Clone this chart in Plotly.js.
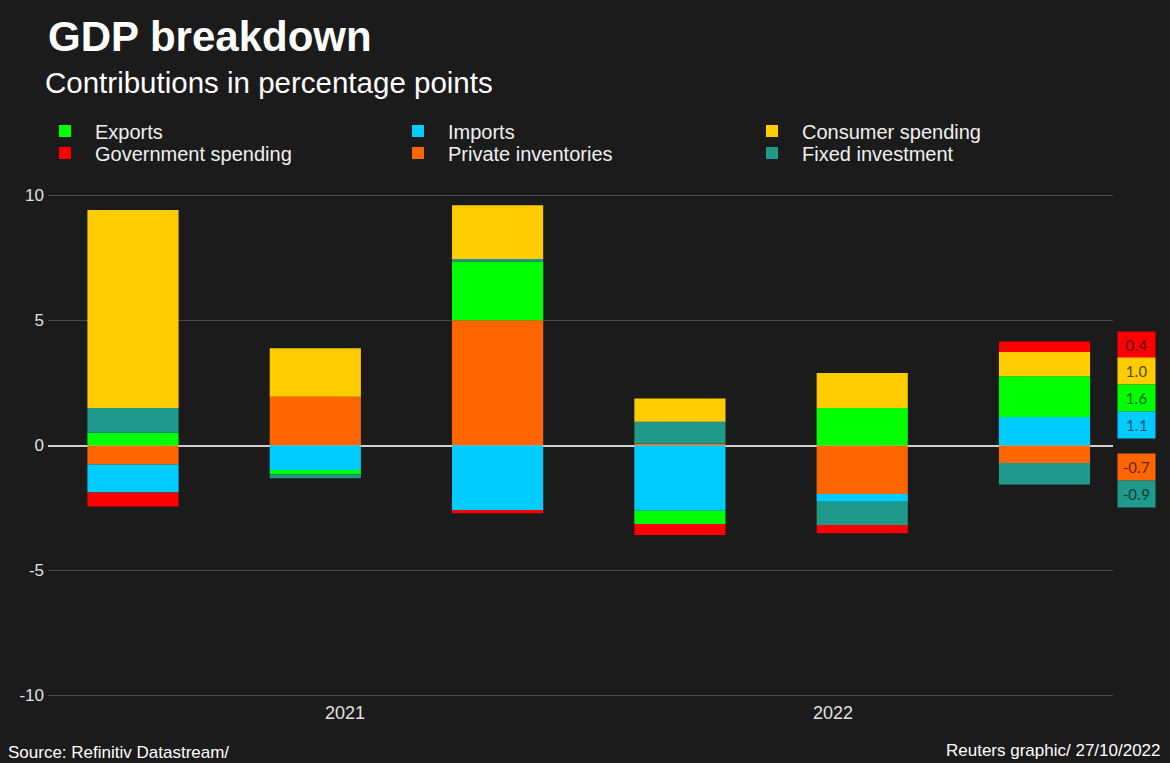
<!DOCTYPE html>
<html>
<head>
<meta charset="utf-8">
<script src="https://cdn.plot.ly/plotly-3.0.1.min.js"></script>
<style>
  html, body { margin: 0; padding: 0; background: #1b1b1b; }
  #chart { width: 1170px; height: 763px; }
</style>
</head>
<body>
<div id="chart"></div>
<script>
// ---- Data (contributions in percentage points) ----
const quarters = ['Q2 2021', 'Q3 2021', 'Q4 2021', 'Q1 2022', 'Q2 2022', 'Q3 2022'];
const xTickLabels = ['2021', '2022'];
const xTickPositions = [1.163, 3.84];
const yTickValues = [-10, -5, 0, 5, 10];

const privateInventories = [-0.76, 1.95, 5.01, 0.08, -1.94, -0.70];
const imports            = [-1.12, -0.98, -2.58, -2.61, -0.31, 1.14];
const exportsC           = [0.51, -0.18, 2.35, -0.53, 1.50, 1.63];
const fixedInvestment    = [0.99, -0.15, 0.10, 0.87, -0.93, -0.86];
const consumerSpending   = [7.92, 1.94, 2.15, 0.93, 1.40, 0.97];
const governmentSpending = [-0.56, 0.00, -0.13, -0.44, -0.33, 0.42];

// ---- Series definitions (stack order bottom-up); legend slot = column,row ----
const series = [
  { name: 'Private inventories', values: privateInventories, color: '#ff6600', dark: '#6a2400', col: 1, row: 1 },
  { name: 'Imports',             values: imports,            color: '#00ccff', dark: '#00506a', col: 1, row: 0 },
  { name: 'Exports',             values: exportsC,           color: '#00ff00', dark: '#006a00', col: 0, row: 0 },
  { name: 'Fixed investment',    values: fixedInvestment,    color: '#1f9a8a', dark: '#0a3e38', col: 2, row: 1 },
  { name: 'Consumer spending',   values: consumerSpending,   color: '#ffcc00', dark: '#5a4700', col: 2, row: 0 },
  { name: 'Government spending', values: governmentSpending, color: '#ff0000', dark: '#6a0000', col: 0, row: 1 }
];

// layout geometry
const W = 1170, H = 763;
const M = { l: 48, r: 57, t: 193, b: 65 };
const plotW = W - M.l - M.r, plotH = H - M.t - M.b;
const px2paperX = px => (px - M.l) / plotW;
const px2paperY = py => (H - M.b - py) / plotH;

const xs = quarters.map((q, i) => i);

const legendCols = [35, 388, 742];
const legendRows = [131, 153];

const layoutLegends = {};
const traces = series.map((s, i) => {
  const key = i === 0 ? 'legend' : 'legend' + (i + 1);
  layoutLegends[key] = {
    xref: 'paper', yref: 'paper',
    x: px2paperX(legendCols[s.col]), y: px2paperY(legendRows[s.row]),
    xanchor: 'left', yanchor: 'middle',
    itemwidth: 50,
    bgcolor: 'rgba(0,0,0,0)',
    borderwidth: 0,
    font: { family: '"Liberation Sans", Arial, sans-serif', size: 20, color: '#f0f0f0' }
  };
  return {
    type: 'bar',
    name: s.name,
    x: xs,
    y: s.values,
    width: 0.5,
    legend: key,
    marker: { color: s.color, line: { width: 0 } },
    hovertext: quarters,
    hoverinfo: 'text+y+name'
  };
});

// ---- Labels for the latest quarter ----
const last = quarters.length - 1;
const boxH = 1.07;
const pos = [], neg = [];
let cumP = 0, cumN = 0;
series.forEach(s => {
  const v = s.values[last];
  if (v >= 0) { pos.push({ s, v, c: cumP + v / 2 }); cumP += v; }
  else { neg.push({ s, v, c: cumN + v / 2 }); cumN += v; }
});
const annotations = [];
pos.reverse();
const pMean = pos.reduce((a, p) => a + p.c, 0) / pos.length;
const pTop = pMean + pos.length * boxH / 2;
pos.forEach((p, i) => { p.y = pTop - boxH * (i + 0.5); });
const pBottom = pTop - pos.length * boxH;
const nMean = neg.reduce((a, p) => a + p.c, 0) / neg.length;
const nTop = Math.min(nMean + neg.length * boxH / 2, pBottom - 0.62);
neg.forEach((p, i) => { p.y = nTop - boxH * (i + 0.5); });
pos.concat(neg).forEach(p => {
  annotations.push({
    xref: 'paper', yref: 'y',
    x: px2paperX(1117), y: p.y,
    xanchor: 'left', yanchor: 'middle',
    text: p.v.toFixed(1),
    showarrow: false,
    bgcolor: p.s.color,
    width: 37, height: 26,
    borderpad: 0,
    font: { family: 'Carlito, "Liberation Sans", Arial, sans-serif', size: 17, color: p.s.dark }
  });
});

// subtitle + footers
annotations.push({
  xref: 'paper', yref: 'paper', x: px2paperX(43), y: px2paperY(82),
  xanchor: 'left', yanchor: 'middle', showarrow: false,
  text: 'Contributions in percentage points',
  font: { family: '"Liberation Sans", Arial, sans-serif', size: 29.5, color: '#ffffff' }
});
annotations.push({
  xref: 'paper', yref: 'paper', x: px2paperX(6), y: px2paperY(752),
  xanchor: 'left', yanchor: 'middle', showarrow: false,
  text: 'Source: Refinitiv Datastream/',
  font: { family: '"Liberation Sans", Arial, sans-serif', size: 17, color: '#ffffff' }
});
annotations.push({
  xref: 'paper', yref: 'paper', x: px2paperX(1163), y: px2paperY(750),
  xanchor: 'right', yanchor: 'middle', showarrow: false,
  text: 'Reuters graphic/ 27/10/2022',
  font: { family: '"Liberation Sans", Arial, sans-serif', size: 17, color: '#ffffff' }
});

const layout = Object.assign({
  width: W, height: H,
  paper_bgcolor: '#1b1b1b',
  plot_bgcolor: '#1b1b1b',
  barmode: 'relative',
  margin: M,
  title: {
    text: '<b>GDP breakdown</b>',
    xref: 'container', yref: 'container',
    x: 48 / W, y: 1 - 36 / H,
    xanchor: 'left', yanchor: 'middle',
    font: { family: '"Liberation Sans", Arial, sans-serif', size: 42, color: '#ffffff' }
  },
  showlegend: true,
  xaxis: {
    range: [-(133 - M.l) / 182.3, (1113 - 133) / 182.3],
    tickvals: xTickPositions,
    ticktext: xTickLabels,
    showgrid: false,
    zeroline: false,
    showline: false,
    ticks: '',
    ticklabelstandoff: 2,
    tickfont: { family: '"Liberation Sans", Arial, sans-serif', size: 18, color: '#e0e0e0' },
    fixedrange: true
  },
  yaxis: {
    range: [-10.1, 10.1],
    tickvals: yTickValues,
    ticktext: yTickValues.map(String),
    showgrid: true,
    gridcolor: '#4a4a4a',
    gridwidth: 1.5,
    zeroline: true,
    zerolinecolor: '#cfcfcf',
    zerolinewidth: 2,
    showline: false,
    ticks: '',
    ticklabelstandoff: 3,
    tickfont: { family: '"Liberation Sans", Arial, sans-serif', size: 17, color: '#e0e0e0' },
    fixedrange: true
  },
  annotations: annotations
}, layoutLegends);

Plotly.newPlot('chart', traces, layout, { displayModeBar: false, staticPlot: true });
</script>
</body>
</html>
